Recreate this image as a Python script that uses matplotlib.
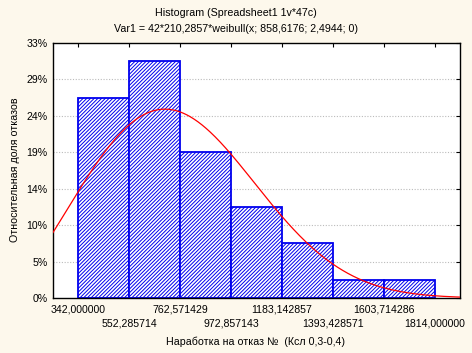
import numpy as np
import matplotlib
matplotlib.use("Agg")
import matplotlib.pyplot as plt

# Data
bin_lefts = [342.0, 552.285714, 762.571429, 972.857143, 1183.142857, 1393.428571, 1603.714286]
bin_width = 210.285714
counts = [11, 13, 8, 5, 3, 1, 1]
n_total = 42
weib_scale = 858.6176
weib_shape = 2.4944
x_ticks = [342.0, 552.285714, 762.571429, 972.857143, 1183.142857, 1393.428571, 1603.714286, 1814.0]
x_tick_labels = ["342,000000", "552,285714", "762,571429", "972,857143",
                 "1183,142857", "1393,428571", "1603,714286", "1814,000000"]
y_ticks = [0, 2, 4, 6, 8, 10, 12, 14]
y_tick_labels = ["0%", "5%", "10%", "14%", "19%", "24%", "29%", "33%"]

bg = "#FDF8EC"
plt.rcParams['font.family'] = ['Liberation Sans', 'DejaVu Sans']
plt.rcParams['hatch.linewidth'] = 0.7
plt.rcParams['hatch.color'] = '#0000EE'

fig = plt.figure(figsize=(4.72, 3.53), dpi=100, facecolor=bg)
ax = fig.add_axes([53/472, 1-298/353, (460-53)/472, (298-43)/353])
ax.set_facecolor("white")

xmin = bin_lefts[0] - bin_width/2
xmax = x_ticks[-1] + bin_width/2
ax.set_xlim(xmin, xmax)
ax.set_ylim(0, 14)

for yt in y_ticks[1:-1]:
    ax.axhline(yt, color="#BBBBBB", lw=0.8, ls=(0, (1, 1.5)), zorder=0)

ax.bar(bin_lefts, counts, width=bin_width, align='edge', facecolor='white',
       edgecolor='#0000EE', linewidth=1.3, hatch='/////////', zorder=2)

xs = np.linspace(xmin, xmax, 400)
k, lam = weib_shape, weib_scale
pdf = (k/lam) * (xs/lam)**(k-1) * np.exp(-(xs/lam)**k)
ax.plot(xs, n_total * bin_width * pdf, color='red', lw=0.9, zorder=3)

ax.set_xticks(x_ticks[0::2])
ax.set_xticklabels(x_tick_labels[0::2], fontsize=7.6)
ax.set_xticks(x_ticks[1::2], minor=True)
ax.set_xticklabels(x_tick_labels[1::2], minor=True, fontsize=7.6)
ax.set_yticks(y_ticks)
ax.set_yticklabels(y_tick_labels, fontsize=7.6)
ax.tick_params(which='both', direction='in', top=True, right=True, bottom=False, left=False,
               length=3, width=0.8, pad=4)
ax.tick_params(axis='x', which='major', pad=5)
ax.tick_params(axis='x', which='minor', pad=15)
for s in ax.spines.values():
    s.set_linewidth(1.0)
    s.set_color('black')

fs = 7.7
fig.text(0.5, 1-13/353, "Histogram (Spreadsheet1 1v*47c)", ha='center', va='center', fontsize=fs)
fig.text(0.5, 1-29/353, "Var1 = 42*210,2857*weibull(x; 858,6176; 2,4944; 0)", ha='center', va='center', fontsize=fs)
fig.text(256/472, 1-342/353, "Наработка на отказ №  (Ксл 0,3-0,4)", ha='center', va='center', fontsize=fs)
fig.text(15/472, 1-170/353, "Относительная доля отказов", ha='center', va='center', rotation=90, fontsize=fs)

fig.savefig("out.png", dpi=100, facecolor=bg)
